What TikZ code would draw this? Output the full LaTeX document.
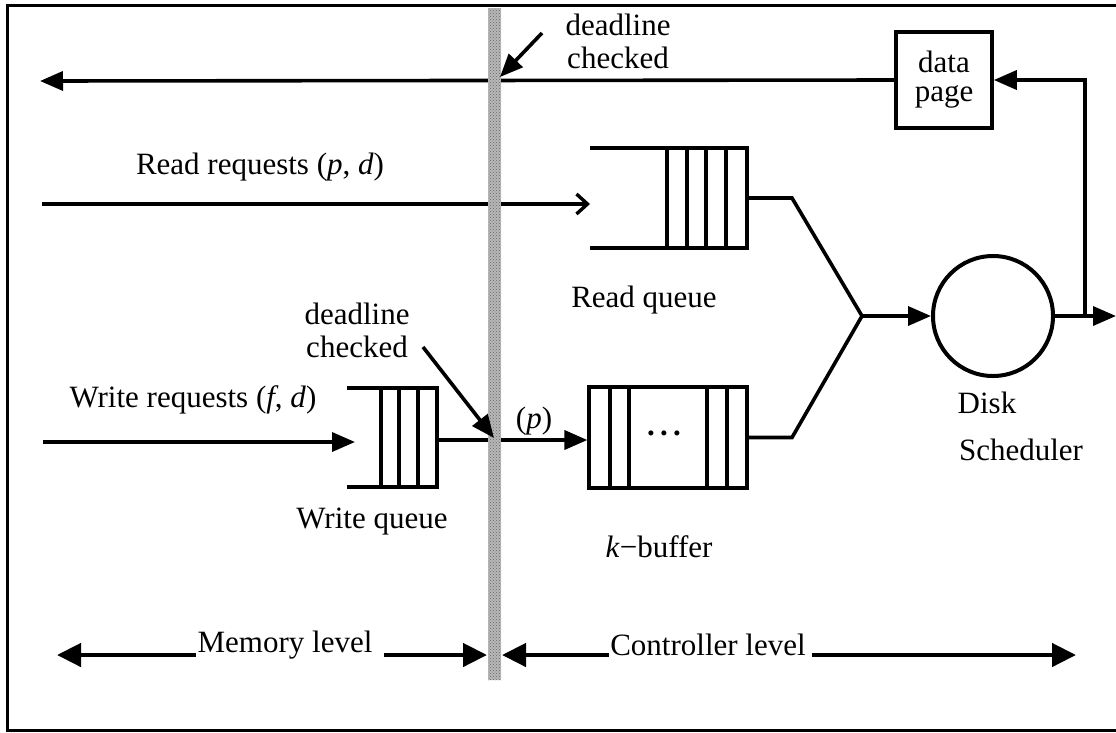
\documentclass[tikz,border=0pt]{standalone}
\usepackage{fontspec}
\setmainfont{Liberation Serif}
\usetikzlibrary{arrows.meta,patterns}
\begin{document}
\begin{tikzpicture}[x=1pt,y=-1pt, line width=3.6pt, line join=miter,
  lbl/.style={font=\fontsize{31}{33}\selectfont, inner sep=0pt, align=center},
  tipf/.style={-{Triangle[length=23pt,width=19pt]}},
  tipb/.style={line width=4.5pt,-{Triangle[length=24pt,width=23pt]}},
  barb/.style={-{Straight Barb[length=11pt,width=20pt,line width=3.4pt]}},
  qline/.style={line width=3.2pt},
  bandbase/.style={fill=black!28},
  banddots/.style={pattern=crosshatch dots, pattern color=black!60}]
\useasboundingbox (0,0) rectangle (1116,732);
% frame
\draw[line width=3pt] (1116,5) -- (7,5) -- (7,730) -- (1116,730);

% data page and top return line
\node[draw, line width=3.6pt, minimum width=96pt, minimum height=96pt, inner sep=0pt,
      font=\fontsize{31}{29}\selectfont, align=center] (dp) at (944,80) {data\\page};
\coordinate (tl) at (40,81);
\draw[tipf] (dp.west) -- (tl);

% disk scheduler
\node[draw, circle, line width=4pt, minimum size=120pt, inner sep=0pt] (ds) at (993,316) {};
\coordinate (sp) at (1085,316);
\coordinate (out) at (1116,316);
\draw[tipf] (ds.east) -- (out);
\draw[tipf] (sp) |- (dp.east);
\coordinate (m) at (862,316);
\draw[tipf] (m) -- (ds.west);

% read queue
\node[minimum width=157pt, minimum height=100pt, inner sep=0pt] (rq) at (668.5,198) {};
\draw[qline] (590,148) -- (747,148) -- (747,248) -- (590,248);
\foreach \x in {667,687,706,726} \draw[qline] (\x,148) -- (\x,248);
\draw (rq.east) -- (792,198) -- (m);
\coordinate (rin) at (42,204);
\coordinate (rqin) at (590,204);
\draw[barb] (rin) -- (rqin);

% k-buffer
\node[draw, qline, minimum width=158pt, minimum height=101pt, inner sep=0pt] (kb) at (668,437.5) {};
\foreach \x in {610,629,707,727} \draw[qline] (\x,387) -- (\x,488);
\node[lbl] (dots) at (664,433) {\textbf{.\,.\,.}};
\draw (kb.east) -- (792,437.5) -- (m);

% write queue
\node[minimum width=90pt, minimum height=99pt, inner sep=0pt] (wq) at (392,437.5) {};
\draw[qline] (347,388) -- (437,388) -- (437,487) -- (347,487);
\foreach \x in {381,399,418} \draw[qline] (\x,388) -- (\x,487);
\coordinate (win) at (43,442);
\coordinate (wqin) at (355,442);
\draw[tipf] (win) -- (wqin);
\coordinate (wqout) at (437,440);
\draw[tipf] (wqout) -- (kb.west |- wqout);

% separating band
\fill[bandbase] (488,8) rectangle (501,680);
\fill[banddots] (488,8) rectangle (501,680);

% deadline arrows
\coordinate (d1s) at (542,33);
\coordinate (d1e) at (500,77);
\draw[tipf] (d1s) -- (d1e);
\coordinate (d2s) at (423,347);
\coordinate (d2e) at (494,438);
\draw[tipf] (d2s) -- (d2e);

% labels
\node[lbl] (lrr) at (260,167) {Read requests (\textit{p}, \textit{d})};
\node[lbl] (lwr) at (193,400) {Write requests (\textit{f}, \textit{d})};
\node[lbl] (lwq) at (372,522) {Write queue};
\node[lbl] (lrq) at (644,300) {Read queue};
\node[lbl] (lkb) at (659,547) {\textit{k}−buffer};
\node[lbl] (lp) at (534,421) {(\textit{p})};
\node[lbl] (ldisk) at (987,403) {Disk};
\node[lbl] (lsch) at (1021,450) {Scheduler};
\node[lbl] (ldc1) at (618,41) {deadline\\checked};
\node[lbl] (ldc2) at (357,330) {deadline\\checked};

% level arrows
\node[lbl] (ml) at (285,645) {Memory level};
\node[lbl] (cl) at (708,645) {Controller level};
\coordinate (mlL) at (57,655);
\coordinate (mlR) at (487,655);
\coordinate (clL) at (502,655);
\coordinate (clR) at (1076,655);
\draw[tipb] (ml.west |- mlL) -- (mlL);
\draw[tipb] ([xshift=10pt]ml.east |- mlR) -- (mlR);
\draw[tipb] (cl.west |- clL) -- (clL);
\draw[tipb] ([xshift=4pt]cl.east |- clR) -- (clR);
\end{tikzpicture}
\end{document}
